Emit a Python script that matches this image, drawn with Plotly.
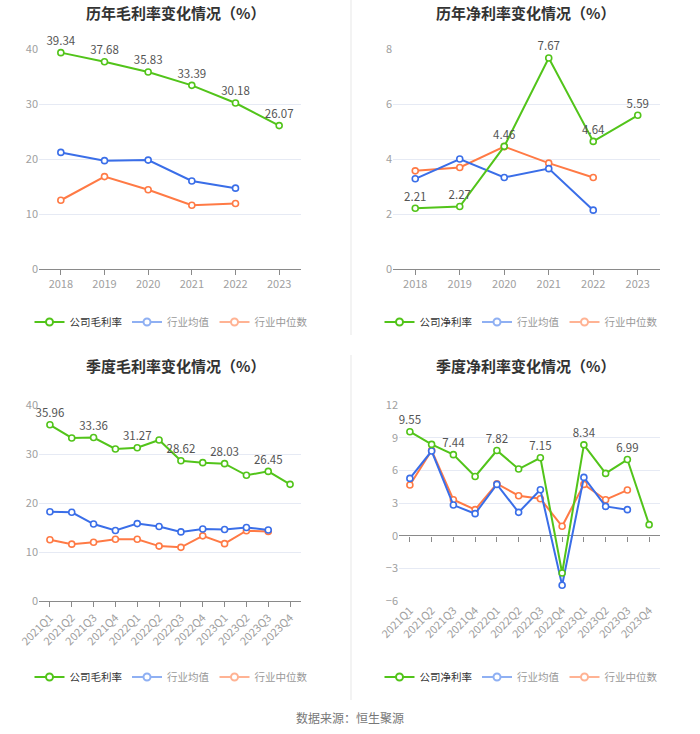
import plotly.graph_objects as go

W, H = 700, 734

years = ["2018", "2019", "2020", "2021", "2022", "2023"]
quarters = ["2021Q1", "2021Q2", "2021Q3", "2021Q4", "2022Q1", "2022Q2",
            "2022Q3", "2022Q4", "2023Q1", "2023Q2", "2023Q3", "2023Q4"]

gross_year = [39.34, 37.68, 35.83, 33.39, 30.18, 26.07]
gross_year_mean = [21.2, 19.7, 19.8, 16.0, 14.7]
gross_year_median = [12.5, 16.8, 14.4, 11.6, 11.9]

net_year = [2.21, 2.27, 4.46, 7.67, 4.64, 5.59]
net_year_mean = [3.28, 4.0, 3.33, 3.65, 2.14]
net_year_median = [3.57, 3.69, 4.45, 3.85, 3.33]

gross_q = [35.96, 33.27, 33.36, 31.02, 31.27, 32.86, 28.62, 28.23, 28.03, 25.65, 26.45, 23.81]
gross_q_mean = [18.2, 18.1, 15.7, 14.4, 15.8, 15.2, 14.1, 14.7, 14.6, 15.0, 14.5]
gross_q_median = [12.5, 11.6, 12.0, 12.6, 12.6, 11.2, 10.95, 13.3, 11.7, 14.35, 14.2]

net_q = [9.55, 8.38, 7.44, 5.44, 7.82, 6.12, 7.15, -3.43, 8.34, 5.72, 6.99, 1.01]
net_q_mean = [5.26, 7.77, 2.81, 2.02, 4.71, 2.14, 4.22, -4.56, 5.35, 2.69, 2.39]
net_q_median = [4.65, 7.83, 3.3, 2.39, 4.77, 3.67, 3.39, 0.86, 4.71, 3.3, 4.19]

titles = ["历年毛利率变化情况（%）", "历年净利率变化情况（%）",
          "季度毛利率变化情况（%）", "季度净利率变化情况（%）"]
company_names = ["公司毛利率", "公司净利率", "公司毛利率", "公司净利率"]
mean_name = "行业均值"
median_name = "行业中位数"
source = "数据来源：恒生聚源"

GREEN = "#52c41a"
BLUE = "#3a6ee8"
ORANGE = "#ff7a45"
FONT = "Noto Sans CJK SC"


def px_x(p):
    return p / W


def px_y(p):
    return 1 - p / H


panels = [
    dict(cats=years, comp=gross_year, mean=gross_year_mean, med=gross_year_median,
         xd=(39, 301), yd=(269, 49), yr=(0, 40), dtick=10, every=1, angle=0),
    dict(cats=years, comp=net_year, mean=net_year_mean, med=net_year_median,
         xd=(393, 660), yd=(269, 49), yr=(0, 8), dtick=2, every=1, angle=0),
    dict(cats=quarters, comp=gross_q, mean=gross_q_mean, med=gross_q_median,
         xd=(39, 301), yd=(601, 405), yr=(0, 40), dtick=10, every=2, angle=-45),
    dict(cats=quarters, comp=net_q, mean=net_q_mean, med=net_q_median,
         xd=(399, 660), yd=(601, 405), yr=(-6, 12), dtick=3, every=2, angle=-45),
]

fig = go.Figure()
layout = {}
annotations = []

for i, p in enumerate(panels):
    n = i + 1
    sx = "" if n == 1 else str(n)
    xa, ya = "x" + sx, "y" + sx
    leg = "legend" + sx
    cats = p["cats"]

    def add_line(vals, color, text=None):
        fig.add_trace(go.Scatter(
            x=cats[:len(vals)], y=vals, xaxis=xa, yaxis=ya,
            mode="lines+markers+text" if text else "lines+markers",
            text=text, textposition="top center",
            textfont=dict(size=11.5, color="#555", family=FONT),
            line=dict(color=color, width=2),
            marker=dict(symbol="circle", size=6, color="white",
                        line=dict(color=color, width=1.6)),
            cliponaxis=False, showlegend=False, hoverinfo="x+y"))

    add_line(p["med"], ORANGE)
    add_line(p["mean"], BLUE)
    labels = [f"{v:.2f}" if k % p["every"] == 0 else "" for k, v in enumerate(p["comp"])]
    add_line(p["comp"], GREEN, labels)

    # legend entries
    for name, color, tcolor in [(company_names[i], GREEN, "#333"),
                                (mean_name, "#8fb0f3", "#999"),
                                (median_name, "#ffb394", "#999")]:
        fig.add_trace(go.Scatter(
            x=[None], y=[None], xaxis=xa, yaxis=ya, mode="lines+markers",
            name=f"<span style='color:{tcolor}'>{name}</span>",
            line=dict(color=color, width=2),
            marker=dict(symbol="circle", size=7, color="white",
                        line=dict(color=color, width=2)),
            legend=leg, showlegend=True))

    layout["xaxis" + sx] = dict(
        domain=[px_x(p["xd"][0]), px_x(p["xd"][1])], anchor=ya,
        type="category", range=[-0.5, len(cats) - 0.5], automargin=False,
        showgrid=False, showline=(i != 3), linecolor="#8a8a8a", linewidth=1,
        ticks="outside" if i != 3 else "", ticklen=5, tickcolor="#8a8a8a",
        tickangle=p["angle"], tickfont=dict(size=11, color="#a0a0a0", family=FONT),
        zeroline=False, fixedrange=True)
    layout["yaxis" + sx] = dict(
        domain=[px_y(p["yd"][0]), px_y(p["yd"][1])], anchor=xa, automargin=False,
        range=list(p["yr"]), dtick=p["dtick"], showgrid=True, gridcolor="#e6eaf4",
        gridwidth=1, zeroline=(i == 3), zerolinecolor="#8a8a8a", zerolinewidth=1,
        showline=False, ticks="", tickfont=dict(size=11, color="#a0a0a0", family=FONT),
        fixedrange=True)

    cx = (175 if i % 2 == 0 else 525)
    ty = 12 if i < 2 else 366
    ly = 322 if i < 2 else 677
    annotations.append(dict(
        text=f"<b>{titles[i]}</b>", x=px_x(cx), y=px_y(ty), xref="paper", yref="paper",
        xanchor="center", yanchor="middle", showarrow=False,
        font=dict(size=15, color="#333", family=FONT)))
    layout[leg] = dict(
        orientation="h", x=px_x(cx - 4), y=px_y(ly), xanchor="center", yanchor="middle",
        font=dict(size=10.5, color="#333", family=FONT), itemwidth=30,
        tracegroupgap=0, bgcolor="rgba(0,0,0,0)", itemclick=False, itemdoubleclick=False)

# tick marks along the zero line of the quarterly net margin panel
layout["xaxis5"] = dict(
    overlaying="x4", anchor="free", position=px_y(536), automargin=False,
    range=[-0.5, len(quarters) - 0.5], tick0=0, dtick=1,
    showticklabels=False, ticks="outside", ticklen=5, tickcolor="#8a8a8a",
    showgrid=False, zeroline=False, showline=False, fixedrange=True)
fig.add_trace(go.Scatter(x=[None], y=[None], xaxis="x5", yaxis="y4",
                         showlegend=False, hoverinfo="skip"))

annotations.append(dict(
    text=source, x=px_x(350), y=px_y(717), xref="paper", yref="paper",
    xanchor="center", yanchor="middle", showarrow=False,
    font=dict(size=12, color="#777", family=FONT)))

shapes = [
    dict(type="line", xref="paper", yref="paper", x0=px_x(351), x1=px_x(351),
         y0=px_y(0), y1=px_y(335), line=dict(color="#f3f3f3", width=2)),
    dict(type="line", xref="paper", yref="paper", x0=px_x(351), x1=px_x(351),
         y0=px_y(355), y1=px_y(700), line=dict(color="#f3f3f3", width=2)),
]

fig.update_layout(
    width=W, height=H, margin=dict(l=0, r=0, t=0, b=0, autoexpand=False),
    paper_bgcolor="white", plot_bgcolor="white", hovermode=False,
    font=dict(family=FONT), annotations=annotations, shapes=shapes,
    **layout)

# drop the browser's default page margin so the figure fills the window
fig.write_html("out.html", config={"displayModeBar": False},
               post_script="document.body.style.margin = '0';")
